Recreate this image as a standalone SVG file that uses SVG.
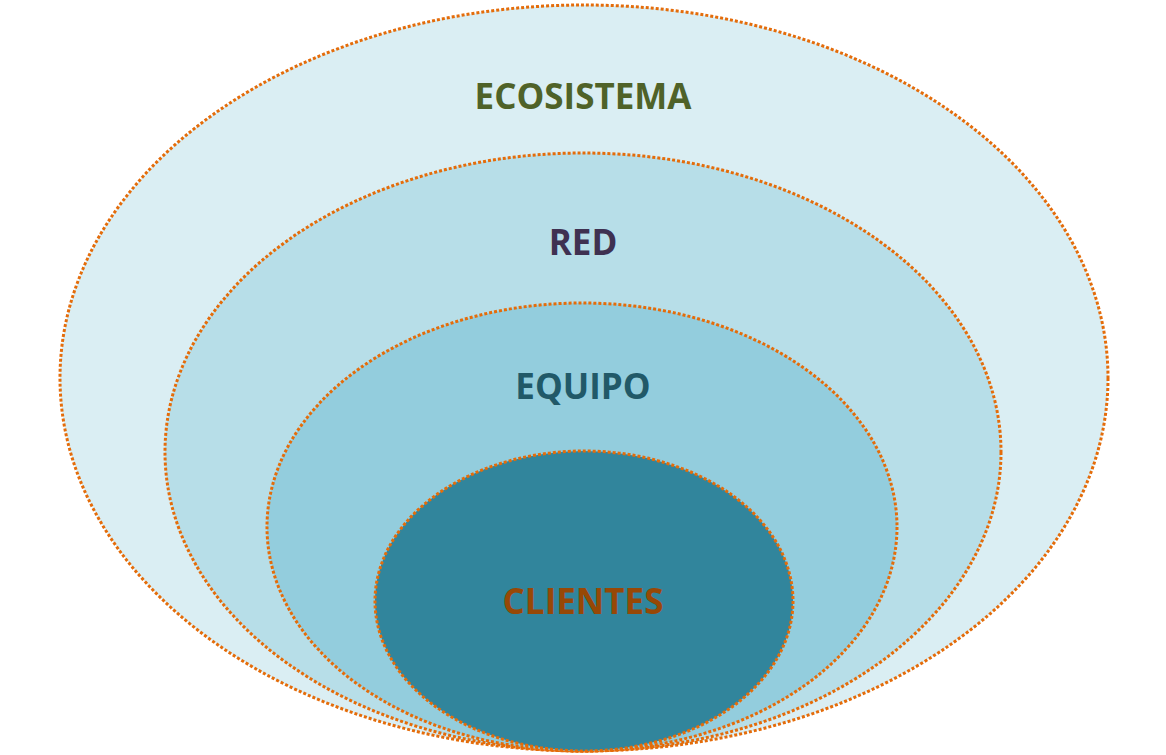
<svg xmlns="http://www.w3.org/2000/svg" width="1166" height="755" viewBox="0 0 1166 755">
<style>
.e{stroke:#E46C0A;stroke-width:3;stroke-dasharray:3 2}
.t{font-family:"Open Sans","Liberation Sans",sans-serif;font-weight:bold;font-size:35px;text-anchor:middle}
</style>
<rect width="1166" height="755" fill="#fff"/>
<g id="ecosistema"><ellipse class="e" cx="584" cy="378" rx="524" ry="373" fill="#DAEEF3"/><text class="t" x="583" y="109" fill="#4F6228">ECOSISTEMA</text></g>
<g id="red"><ellipse class="e" cx="583" cy="452" rx="418" ry="299" fill="#B7DEE8"/><text class="t" x="583" y="255" fill="#3F3151">RED</text></g>
<g id="equipo"><ellipse class="e" cx="582" cy="527" rx="315" ry="224" fill="#93CDDD"/><text class="t" x="583" y="399" fill="#215968">EQUIPO</text></g>
<g id="clientes"><ellipse class="e" cx="584" cy="601" rx="209" ry="150" fill="#31859C"/><text class="t" x="583" y="614" fill="#974806">CLIENTES</text></g>
<g id="connectors"/>
</svg>
